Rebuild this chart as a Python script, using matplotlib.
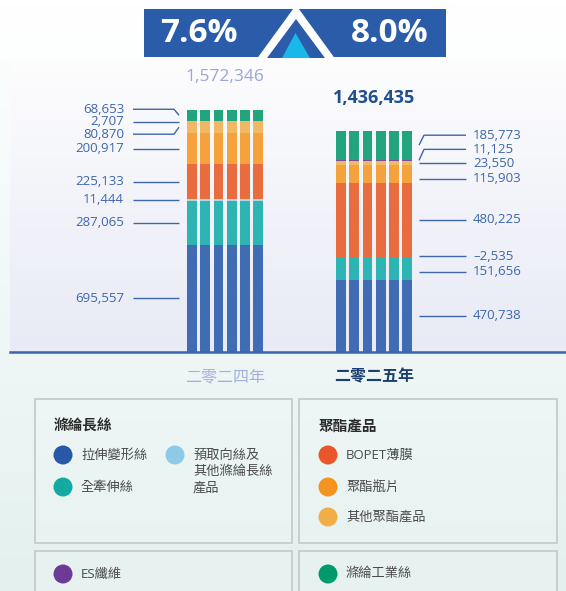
import numpy as np
import matplotlib.pyplot as plt
from matplotlib.patches import Rectangle, Polygon, Circle
from matplotlib.colors import to_rgb

plt.rcParams['font.family'] = ['Open Sans', 'Noto Sans CJK TC', 'DejaVu Sans']

# data
years = ['二零二四年', '二零二五年']
growth = ['7.6%', '8.0%']
totals = [1572346, 1436435]
segments = ['拉伸變形絲', '全牽伸絲', '預取向絲及\n其他滌綸長絲\n產品', 'BOPET薄膜',
            '聚酯瓶片', '其他聚酯產品', 'ES纖維', '滌綸工業絲']
v2024 = [695557, 287065, 11444, 225133, 200917, 80870, 2707, 68653]
v2025 = [470738, 151656, -2535, 480225, 115903, 23550, 11125, 185773]

bar_colors = ['#3f6cb2', '#2db4b3', '#a8d8e6', '#e96c3e', '#f6a23c', '#f0b862', '#7b4b9c', '#22a47e']
dot_colors = ['#2a58a8', '#12aaa2', '#8ecae6', '#e8572a', '#f39322', '#f1ae48', '#6d3a98', '#009a6c']

# label nudges in px (down positive) and whether the leader line bends
nudge = [[0, 0, 0, 0, 0, 7, 1, -6], [0, 4, 0, 0, 5, 0, -11, -10]]
kink = [[0, 0, 0, 0, 0, 1, 0, 1], [0, 0, 0, 0, 0, 0, 1, 1]]

W, H = 566, 591
fig = plt.figure(figsize=(W / 100, H / 100), dpi=100)

# background
bg = fig.add_axes([0, 0, 1, 1])
bg.set_xlim(0, W)
bg.set_ylim(H, 0)
bg.axis('off')


def vgrad(c1, c2, n=256):
    a, b = np.array(to_rgb(c1)), np.array(to_rgb(c2))
    t = np.linspace(0, 1, n)[:, None]
    return (a + (b - a) * t)[:, None, :]


bg.imshow(vgrad('#ffffff', '#fdfefe', 16), extent=(0, W, 60, 0), aspect='auto')
bg.imshow(vgrad('#fbfdfd', '#eef7f6'), extent=(0, W, 352, 60), aspect='auto')
bg.imshow(vgrad('#eef7f6', '#e3f0ee'), extent=(0, W, H, 352), aspect='auto')
bg.imshow(vgrad('#fdfdfe', '#e8eaf5'), extent=(10, W, 352, 58), aspect='auto')

# banner
bg.add_patch(Rectangle((144, 9), 302, 48, color='#2a5caa', lw=0))
bg.add_patch(Polygon([(256, 60), (296, 5), (336, 60)], color='white', lw=0))
bg.add_patch(Polygon([(267, 58), (296, 19), (325, 58)], color='#2a5caa', lw=0))
bg.add_patch(Polygon([(282, 58), (295.5, 33), (310, 58)], color='#1ab8e8', lw=0))
bg.text(199, 34, growth[0], color='white', fontsize=24, fontweight='bold', ha='center', va='center')
bg.text(390, 34, growth[1], color='white', fontsize=24, fontweight='bold', ha='center', va='center')

# legend boxes
for x0, y0, w, h in [(35, 399, 257, 144), (299, 399, 258, 144), (35, 551, 257, 60), (299, 551, 258, 60)]:
    bg.add_patch(Rectangle((x0, y0), w, h, facecolor=(1, 1, 1, 0.12), edgecolor='#c6cbcb', lw=1.3))
bg.text(54, 427, '滌綸長絲', fontsize=10.5, fontweight='bold', color='#2b2b2b', va='center')
bg.text(319, 427, '聚酯產品', fontsize=10.5, fontweight='bold', color='#2b2b2b', va='center')
legend_pos = [(63, 455), (63, 487), (175, 455), (328, 455), (328, 487), (328, 517), (63, 574), (328, 574)]
for (cx, cy), name, c in zip(legend_pos, segments, dot_colors):
    bg.add_patch(Circle((cx, cy), 9.5, color=c, lw=0))
    lines = name.split('\n')
    for k, ln in enumerate(lines):
        bg.text(cx + 18, cy + k * 16.5, ln, fontsize=9.5, color='#4a4a4a', va='center')

# chart
base_px = 352
top_px = 60
UPX = 6497.0          # value units per pixel
XPX = 1 / 149.0       # category units per pixel
ax = fig.add_axes([0, (H - base_px) / H, 1, (base_px - top_px) / H])
ax.set_xlim(-225 * XPX, 1 + (W - 374) * XPX)
ax.set_ylim(0, (base_px - top_px) * UPX)
ax.axis('off')
ax.patch.set_alpha(0)

strip_off = (np.arange(6) - 2.5) * 13.2 * XPX
strip_w = 9.8 * XPX

for i, vals in enumerate([v2024, v2025]):
    vals = np.array(vals, dtype=float)
    bottoms = np.cumsum(vals) - vals
    xs = i + strip_off
    for v, b, c in zip(vals, bottoms, bar_colors):
        ax.bar(xs, v, bottom=b, width=strip_w, color=c, lw=0)

    centers = bottoms + vals / 2
    for j, (v, cy) in enumerate(zip(vals, centers)):
        ly = cy - nudge[i][j] * UPX
        ty = cy if kink[i][j] else ly
        txt = f'{int(v):,}'.replace('-', '–')
        if i == 0:
            xa, xb, xc = i - 92 * XPX, i - 51 * XPX, i - 46 * XPX
            ax.plot([xa, xb, xc], [ly, ly, ty], color='#3d66ad', lw=1, solid_capstyle='butt')
            ax.text(i - 101 * XPX, ly, txt, ha='right', va='center', fontsize=9.5, color='#3d66ad')
        else:
            xa, xb, xc = i + 45 * XPX, i + 50 * XPX, i + 92 * XPX
            ax.plot([xa, xb, xc], [ty, ly, ly], color='#3d66ad', lw=1, solid_capstyle='butt')
            ax.text(i + 99 * XPX, ly, txt, ha='left', va='center', fontsize=9.5, color='#3d66ad')

# totals
ax.text(0, totals[0] + 33 * UPX, f'{totals[0]:,}', ha='center', va='center', fontsize=12.5, color='#9aa5d8')
ax.text(1, totals[1] + 33 * UPX, f'{totals[1]:,}', ha='center', va='center', fontsize=13,
        fontweight='bold', color='#1f4f8f')

# baseline and year labels
ax.axhline(0, xmin=10 / W, xmax=1, color='#3a64ad', lw=1.8, clip_on=False)
ax.text(0, -25 * UPX, years[0], ha='center', va='center', fontsize=11.5, color='#a6b0de', clip_on=False)
ax.text(1, -25 * UPX, years[1], ha='center', va='center', fontsize=11.5, fontweight='bold',
        color='#1b3f70', clip_on=False)

fig.savefig('out.png', dpi=100)
